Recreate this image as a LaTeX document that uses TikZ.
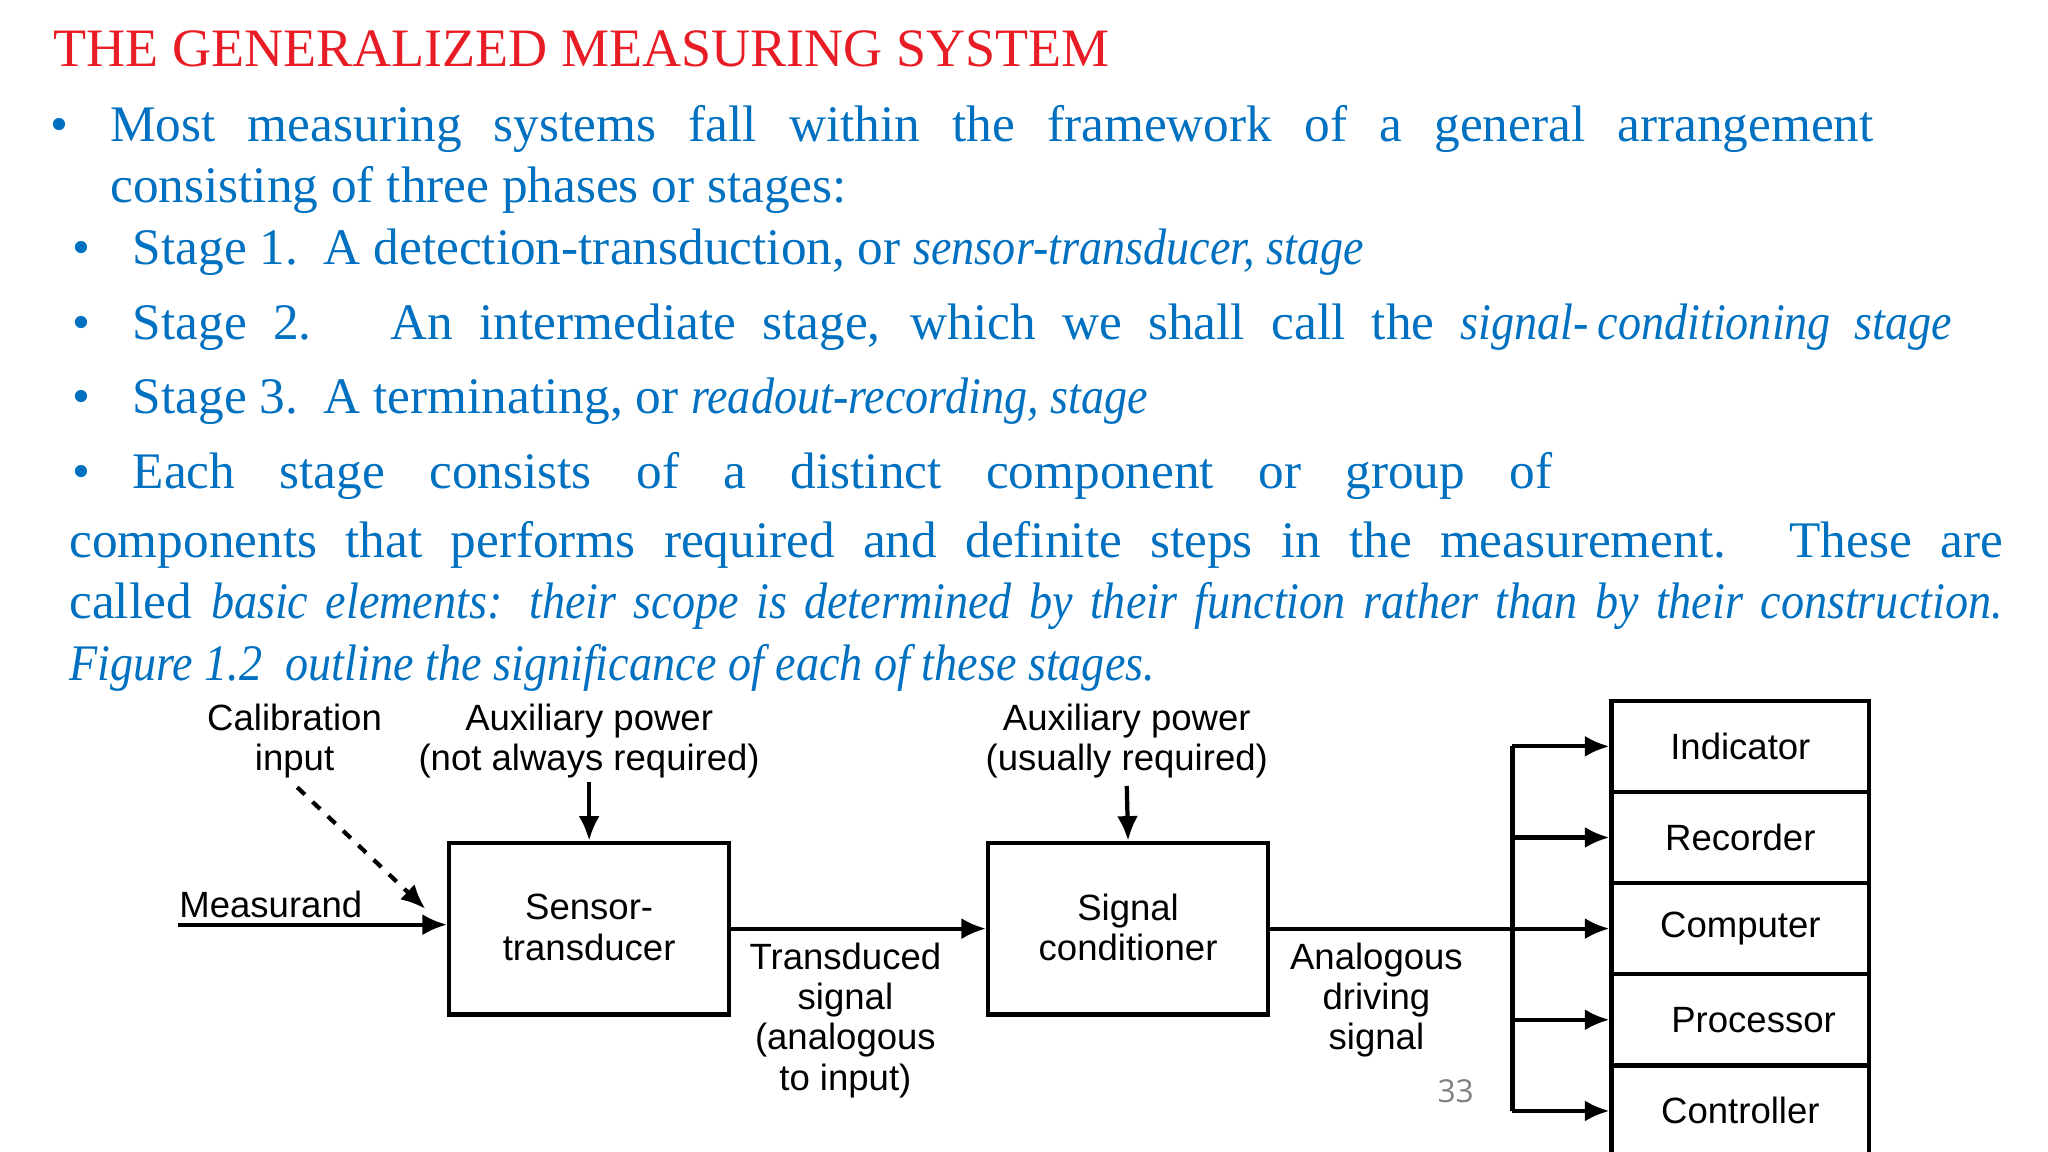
\documentclass[tikz,border=0pt]{standalone}
\usepackage{fontspec}
\setmainfont{Liberation Serif}[ItalicFeatures={FakeStretch=0.9}]
\newfontfamily\diagfont{Liberation Sans}
\newfontfamily\numfont{Open Sans}
\usetikzlibrary{arrows.meta}
\definecolor{ttlred}{RGB}{232,28,36}
\definecolor{txtblue}{RGB}{0,112,192}
\tikzset{
  body/.style={anchor=base west,inner sep=0pt,text=txtblue,font=\fontsize{14.6pt}{17pt}\selectfont},
  bul/.style={anchor=base,inner sep=0pt,text=txtblue,font=\fontsize{14.6pt}{17pt}\selectfont},
  lbl/.style={align=center,inner sep=0pt,font=\diagfont\fontsize{10.4pt}{11.5pt}\selectfont},
  blk/.style={draw,line width=1.2pt,minimum width=2.8cm,minimum height=1.717cm,inner sep=0pt},
  outb/.style={draw,line width=1.2pt,minimum width=2.576cm,minimum height=0.911cm,inner sep=0pt},
  conn/.style={line width=1.2pt,-{Latex[length=7pt,width=6pt]}},
}
\begin{document}
\begin{tikzpicture}[x=0.01321cm,y=-0.01321cm]
\useasboundingbox (0,0) rectangle (1550.4,872);
\node[anchor=base west,inner sep=0pt,text=ttlred,font=\fontsize{15.4pt}{17pt}\selectfont] (title) at (40,50) {THE GENERALIZED MEASURING SYSTEM};
\node[bul] (b1) at (45,107) {•};
\node[body] (l1) at (83,107) {\makebox[17.64cm][s]{Most measuring systems fall within the framework of a general arrangement}};
\node[body] (l2) at (83,153) {consisting of three phases or stages:};
\node[bul] (b2) at (62,200) {•};
\node[body] (l3) at (100,200) {Stage 1.\ \ A detection-transduction, or \textit{sensor-transducer, stage}};
\node[bul] (b3) at (62,257) {•};
\node[body] (l4) at (100,257) {\makebox[18.2cm][s]{Stage 2.\ \ \ An intermediate stage, which we shall call the \textit{signal-\,conditioning stage}}};
\node[bul] (b4) at (62,313) {•};
\node[body] (l5) at (100,313) {Stage 3.\ \ A terminating, or \textit{readout-recording, stage}};
\node[bul] (b5) at (62,370) {•};
\node[body] (l6) at (100,370) {\makebox[14.2cm][s]{Each stage consists of a distinct component or group of}};
\node[body] (l7) at (52,422) {\makebox[19.34cm][s]{components that performs required and definite steps in the measurement. These are}};
\node[body] (l8) at (52,468) {\makebox[19.34cm][s]{called \textit{basic elements: their scope is determined by their function rather than by their construction.}}};
\node[body] (l9) at (52,515) {\textit{Figure 1.2\ \ outline the significance of each of these stages.}};

% blocks
\node[blk] (st) at (446,703) {};
\node[lbl] at (446,702) {Sensor-\\transducer};
\node[blk] (sc) at (854,703) {};
\node[lbl] at (854,702) {Signal\\conditioner};
\foreach \n/\t/\y/\dx in {ind/Indicator/565/0,rec/Recorder/634/0,com/Computer/703/0,pro/Processor/772/10,con/Controller/841/0}{
  \node[outb] (\n) at (1317.5,\y) {};
  \node[lbl] at (1317.5+\dx,\y) {\t};
}
% labels
\node[lbl] (cal) at (223,561) {Calibration\\input};
\node[lbl] (ap1) at (446,561) {Auxiliary power\\(not always required)};
\node[lbl] (ap2) at (853,561) {Auxiliary power\\(usually required)};
\node[lbl] (meas) at (205,685) {Measurand};
\node[lbl,anchor=north] (ts) at (640,713) {Transduced\\signal\\(analogous\\to input)};
\node[lbl,anchor=north] (ads) at (1042,713) {Analogous\\driving\\signal};
\node[inner sep=0pt,text=gray,font=\numfont\fontsize{9pt}{10pt}\selectfont] (pg) at (1102,826) {33};

\coordinate (min) at (135,700);
\coordinate (calend) at (322,688);
\coordinate (calst) at (225,596);
\coordinate (split) at (1145,703);
\coordinate (top) at (1145,565);
\coordinate (bot) at (1145,841);
\draw[conn] (min) -- (st.west |- min);
\draw[conn,dashed] (calst) -- (calend);
\draw[conn] (ap1.south |- 0,592) -- (st.north);
\draw[conn] (ap2.south |- 0,595) -- (sc.north);
\draw[conn] (st.east) -- (sc.west);
\draw[line width=1.2pt] (sc.east) -- (split);
\draw[line width=1.2pt] (top) -- (bot);
\foreach \n in {ind,rec,com,pro,con}{
  \draw[conn] (split |- \n.west) -- (\n.west);
}
\end{tikzpicture}
\end{document}
